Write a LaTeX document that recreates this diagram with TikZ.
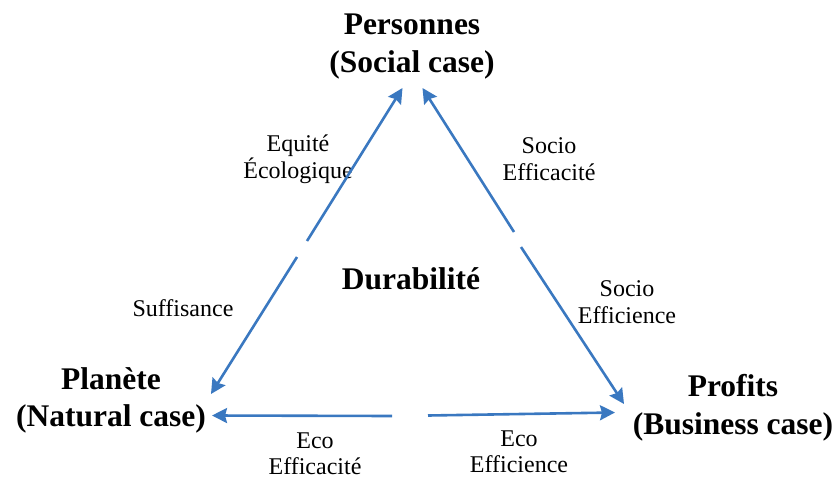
\documentclass[tikz,border=0pt]{standalone}
\usepackage{fontspec}
\setmainfont{Liberation Serif}
\usetikzlibrary{arrows.meta}
\definecolor{arrowblue}{RGB}{58,120,192}
\tikzset{
  big/.style={font=\bfseries\fontsize{31.5}{37.5}\selectfont, align=center, inner sep=0pt},
  small/.style={font=\fontsize{24}{26.5}\selectfont, align=center, inner sep=0pt},
  conn/.style={draw=arrowblue, line width=2.6pt, -{Stealth[length=15pt,width=15pt,inset=2pt]}}
}
\begin{document}
\begin{tikzpicture}[x=1pt,y=-1pt]
\useasboundingbox (0,0) rectangle (837,479);
% texts
\node[big] (pers) at (412,46.5) {Personnes\\(Social case)};
\node[big] (plan) at (111,400.5) {Planète\\(Natural case)};
\node[big] (prof) at (733,408) {Profits\\(Business case)};
\node[big] (dur) at (411,279) {Durabilité};
\node[small] (eqe) at (298,159) {Equité\\Écologique};
\node[small] (seff) at (549,159) {Socio\\Efficacité};
\node[small] (suff) at (183,308) {Suffisance};
\node[small] (sefi) at (627,302) {Socio\\Efficience};
\node[small] (eefa) at (315,454) {Eco\\Efficacité};
\node[small] (eefi) at (519,452) {Eco\\Efficience};
% connector end points
\coordinate (tl) at (402.5,88);
\coordinate (tr) at (422.5,88);
\coordinate (bl) at (211,394);
\coordinate (br) at (624,404);
\coordinate (lbl) at (212,415.5);
\coordinate (lbr) at (615,412.5);
\coordinate (g1) at (307,241);
\coordinate (g2) at (297,257);
\coordinate (g3) at (514,232);
\coordinate (g4) at (521,247);
\coordinate (g5) at (392,416);
\coordinate (g6) at (428,415.5);
% connectors
\draw[conn] (g1) -- (tl);
\draw[conn] (g2) -- (bl);
\draw[conn] (g3) -- (tr);
\draw[conn] (g4) -- (br);
\draw[conn] (g5) -- (lbl);
\draw[conn] (g6) -- (lbr);
\end{tikzpicture}
\end{document}
